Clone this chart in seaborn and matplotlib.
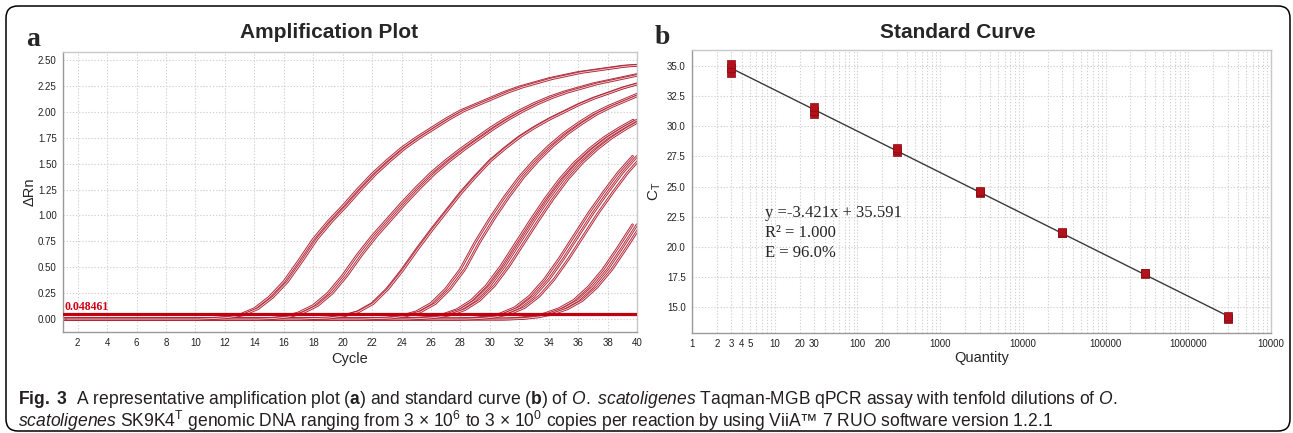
import numpy as np
import pandas as pd
import matplotlib.pyplot as plt
import matplotlib.patheffects as pe
import seaborn as sns
from matplotlib import font_manager
from matplotlib.patches import FancyBboxPatch
from matplotlib.transforms import IdentityTransform
from matplotlib.ticker import FixedLocator, FixedFormatter, FormatStrFormatter, LogLocator, NullFormatter

# --- (a) amplification plot: delta Rn per cycle, one list per dilution ---
cycles = list(range(1, 41))
drn_3e6 = [0.0] * 10 + [0.005, 0.015, 0.04, 0.10, 0.21, 0.36, 0.56, 0.77, 0.94, 1.09,
                        1.25, 1.40, 1.53, 1.65, 1.75, 1.84, 1.93, 2.01, 2.07, 2.13,
                        2.19, 2.24, 2.28, 2.32, 2.35, 2.38, 2.40, 2.42, 2.44, 2.45]
drn_3e5 = [0.0] * 14 + [0.005, 0.02, 0.06, 0.13, 0.25, 0.42, 0.62, 0.80, 0.96, 1.12,
                        1.27, 1.41, 1.53, 1.64, 1.74, 1.84, 1.93, 2.01, 2.08, 2.14,
                        2.19, 2.23, 2.27, 2.30, 2.33, 2.36]
drn_3e4 = [0.0] * 17 + [0.005, 0.01, 0.03, 0.07, 0.15, 0.29, 0.47, 0.67, 0.86, 1.04,
                        1.22, 1.38, 1.53, 1.65, 1.76, 1.85, 1.93, 2.00, 2.07, 2.13,
                        2.18, 2.23, 2.27]
drn_3e3 = [0.0] * 21 + [0.005, 0.01, 0.03, 0.07, 0.15, 0.29, 0.48, 0.74, 0.97, 1.18,
                        1.37, 1.53, 1.67, 1.79, 1.89, 1.98, 2.05, 2.11, 2.17]
drn_3e2 = [0.0] * 24 + [0.005, 0.015, 0.04, 0.09, 0.18, 0.32, 0.51, 0.73, 0.95, 1.16,
                        1.35, 1.51, 1.64, 1.75, 1.84, 1.92]
drn_3e1 = [0.0] * 28 + [0.005, 0.02, 0.05, 0.11, 0.22, 0.38, 0.58, 0.80, 1.02, 1.22,
                        1.41, 1.57]
drn_3e0 = [0.0] * 31 + [0.005, 0.02, 0.05, 0.10, 0.18, 0.31, 0.48, 0.69, 0.91]

# replicate offsets (cycles) read from the spread of each bundle
rep_3e6 = [0.0, 0.25]
rep_3e5 = [0.0, 0.30]
rep_3e4 = [0.0, 0.08]
rep_3e3 = [0.0, 0.30]
rep_3e2 = [-0.25, 0.0, 0.30]
rep_3e1 = [-0.30, 0.0, 0.35]
rep_3e0 = [-0.30, 0.0, 0.30]

threshold = 0.048461

# --- (b) standard curve ---
quantity = [3, 3, 3, 30, 30, 30, 300, 300, 300, 3000, 3000, 3000,
            30000, 30000, 30000, 300000, 300000, 300000, 3000000, 3000000, 3000000]
ct = [34.45, 34.8, 35.15, 31.0, 31.3, 31.6, 27.85, 28.0, 28.2, 24.45, 24.55, 24.6,
      21.1, 21.15, 21.2, 17.75, 17.8, 17.85, 14.0, 14.1, 14.25]
qty_ticks = [1, 2, 3, 4, 5, 10, 20, 30, 100, 200, 1000, 1e4, 1e5, 1e6, 1e7]
qty_labels = ['1', '2', '3', '4', '5', '10', '20', '30', '100', '200', '1000',
              '10000', '100000', '1000000', '10000']

# tabla larga para seaborn
curvas = {'3e6': (drn_3e6, rep_3e6), '3e5': (drn_3e5, rep_3e5), '3e4': (drn_3e4, rep_3e4),
          '3e3': (drn_3e3, rep_3e3), '3e2': (drn_3e2, rep_3e2), '3e1': (drn_3e1, rep_3e1),
          '3e0': (drn_3e0, rep_3e0)}
filas = []
for nombre, (valores, reps) in curvas.items():
    for k, s in enumerate(reps):
        for c, v in zip(cycles, valores):
            filas.append((c + s, v, f'{nombre}_{k}'))
amp = pd.DataFrame(filas, columns=['Cycle', 'dRn', 'curve'])

sns.set_theme(style='white')
names = {f.name for f in font_manager.fontManager.ttflist}
narrow = 'Liberation Sans Narrow' if 'Liberation Sans Narrow' in names else 'Liberation Sans'
plt.rcParams['font.family'] = ['Liberation Sans', 'DejaVu Sans']
plt.rcParams['mathtext.fontset'] = 'custom'
plt.rcParams['mathtext.rm'] = narrow
plt.rcParams['mathtext.it'] = narrow + ':italic'
plt.rcParams['mathtext.bf'] = narrow + ':bold'

W, H = 1293, 433
fig = plt.figure(figsize=(W / 100, H / 100), dpi=100)
ax1 = fig.add_axes([63 / W, 1 - 332 / H, 574 / W, 280 / H])
ax2 = fig.add_axes([692 / W, 1 - 333 / H, 579 / W, 283 / H])

grid_kw = dict(color='#d2d2d2', linestyle=(0, (1.2, 1.6)), linewidth=0.8)

# --- panel a ---
sns.lineplot(data=amp, x='Cycle', y='dRn', units='curve', estimator=None,
             color='#f2d9dc', lw=0.6, ax=ax1, legend=False,
             path_effects=[pe.Stroke(linewidth=1.9, foreground='#b02838'), pe.Normal()])
ax1.axhline(threshold, color='#c00010', lw=2.3, zorder=4)
ax1.text(1.1, threshold + 0.01, '0.048461', color='#d00010', fontsize=8.5,
         fontweight='bold', family='Liberation Serif', va='bottom', ha='left', zorder=5)
ax1.set_xlim(1, 40)
ax1.set_ylim(-0.125, 2.577)
ax1.set_xticks(range(2, 41, 2))
ax1.set_yticks(np.arange(0, 2.51, 0.25))
ax1.yaxis.set_major_formatter(FormatStrFormatter('%.2f'))
ax1.grid(True, **grid_kw)
ax1.set_xlabel('Cycle', fontsize=10.5, labelpad=3)
ax1.set_ylabel('ΔRn', fontsize=10.5, labelpad=1)

# --- panel b ---
sns.regplot(x=np.array(quantity), y=np.array(ct), logx=True, scatter=False, ci=None,
            line_kws=dict(color='#3a3a3a', lw=1.0), ax=ax2)
sns.scatterplot(x=quantity, y=ct, marker='s', s=36, color='#b3111c',
                edgecolor='#8c0c14', linewidth=0.5, ax=ax2, zorder=5)
ax2.set_xscale('log')
ax2.set_xlim(1, 1e7)
ax2.set_ylim(12.84, 36.33)
ax2.xaxis.set_major_locator(FixedLocator(qty_ticks))
ax2.xaxis.set_major_formatter(FixedFormatter(qty_labels))
ax2.xaxis.set_minor_locator(LogLocator(base=10, subs=range(2, 10)))
ax2.xaxis.set_minor_formatter(NullFormatter())
ax2.set_yticks(np.arange(15, 35.1, 2.5))
ax2.yaxis.set_major_formatter(FormatStrFormatter('%.1f'))
ax2.grid(True, which='both', **grid_kw)
ax2.tick_params(axis='x', which='minor', length=0)
ax2.set_xlabel('Quantity', fontsize=10.5, labelpad=1)
ax2.set_ylabel('C$_{\\mathrm{T}}$', fontsize=11, labelpad=3)
ax2.text(0.126, 0.424, 'y =-3.421x + 35.591', transform=ax2.transAxes,
         family='Liberation Serif', fontsize=12, va='center')
ax2.text(0.126, 0.353, 'R² = 1.000', transform=ax2.transAxes,
         family='Liberation Serif', fontsize=12, va='center')
ax2.text(0.126, 0.283, 'E = 96.0%', transform=ax2.transAxes,
         family='Liberation Serif', fontsize=12, va='center')

for ax in (ax1, ax2):
    ax.tick_params(axis='both', which='major', labelsize=7, length=3, width=0.6,
                   color='#8a8a8a', pad=1.5, labelcolor='#222222')
    for lado in ('top', 'right'):
        ax.spines[lado].set_color('#c8c8c8')
    for lado in ('left', 'bottom'):
        ax.spines[lado].set_color('#9a9a9a')
    for sp in ax.spines.values():
        sp.set_linewidth(1.0)
    ax.set_axisbelow(True)

# titulos y letras de panel
fig.text(329 / W, 1 - 32 / H, 'Amplification Plot', fontsize=15, fontweight='bold',
         ha='center', va='center')
fig.text(958 / W, 1 - 32 / H, 'Standard Curve', fontsize=15, fontweight='bold',
         ha='center', va='center')
fig.text(33 / W, 1 - 39 / H, 'a', family='Liberation Serif', fontweight='bold',
         fontsize=20, ha='center', va='center')
fig.text(662 / W, 1 - 37 / H, 'b', family='Liberation Serif', fontweight='bold',
         fontsize=20, ha='center', va='center')

# marco redondeado
marco = FancyBboxPatch((6, 2), 1284, 425, boxstyle='round,pad=0,rounding_size=12',
                       transform=IdentityTransform(), facecolor='none',
                       edgecolor='black', linewidth=1.1)
fig.patches.append(marco)

# pie de figura
linea1 = ('$\\mathbf{Fig.\\ 3}$  A representative amplification plot ($\\mathbf{a}$) and '
          'standard curve ($\\mathbf{b}$) of $\\mathit{O.\\ scatoligenes}$ Taqman-MGB qPCR '
          'assay with tenfold dilutions of $\\mathit{O.}$')
linea2 = ('$\\mathit{scatoligenes}$ SK9K4$^{\\mathrm{T}}$ genomic DNA ranging from '
          '3 × 10$^{6}$ to 3 × 10$^{0}$ copies per reaction by using ViiA™ 7 RUO '
          'software version 1.2.1')
t1 = fig.text(18 / W, 1 - 399 / H, linea1, family=narrow, fontsize=12, va='center',
              color='#231f20')
t2 = fig.text(18 / W, 1 - 421 / H, linea2, family=narrow, fontsize=12, va='center',
              color='#231f20')
rend = fig.canvas.get_renderer()
ancho = t1.get_window_extent(rend).width
fs = 12 * 1100 / ancho
t1.set_fontsize(fs)
t2.set_fontsize(fs)

fig.savefig('out.png', dpi=100)
